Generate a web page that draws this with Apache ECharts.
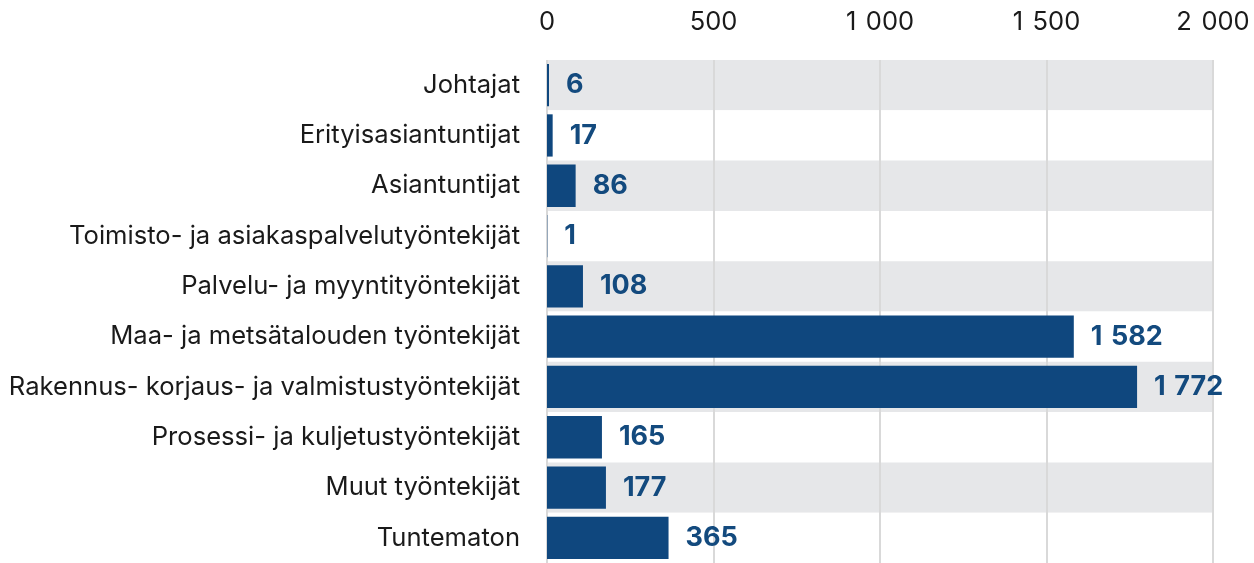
<!DOCTYPE html>
<html>
<head>
<meta charset="utf-8">
<script src="https://cdn.jsdelivr.net/npm/echarts@6/dist/echarts.min.js"></script>
<style>
  html, body { margin: 0; padding: 0; background: #fff; }
  #main { width: 1254px; height: 563px; }
</style>
</head>
<body>
<div id="main"></div>
<script>
const categories = [
  "Johtajat",
  "Erityisasiantuntijat",
  "Asiantuntijat",
  "Toimisto- ja asiakaspalvelutyöntekijät",
  "Palvelu- ja myyntityöntekijät",
  "Maa- ja metsätalouden työntekijät",
  "Rakennus- korjaus- ja valmistustyöntekijät",
  "Prosessi- ja kuljetustyöntekijät",
  "Muut työntekijät",
  "Tuntematon",
];
const values = [6, 17, 86, 1, 108, 1582, 1772, 165, 177, 365];
const xTicks = [0, 500, 1000, 1500, 2000];

// thousands separator: a slightly widened space, as in the original
const fmt = (v) => String(v).replace(/\B(?=(\d{3})+(?!\d))/g, " \u200a");

const chart = echarts.init(document.getElementById("main"));

chart.setOption({
  animation: false,
  textStyle: { fontFamily: "Inter" },
  grid: { left: 547, right: 41, top: 60, bottom: 0 },
  xAxis: {
    type: "value",
    position: "top",
    min: xTicks[0],
    max: xTicks[xTicks.length - 1],
    interval: 500,
    axisLine: { show: false },
    axisTick: { show: false },
    axisLabel: {
      margin: 25,
      fontSize: 25.5,
      color: "#1a1a1a",
      formatter: (v) => fmt(v),
    },
    splitLine: { show: true, lineStyle: { color: "#d9d9d9", width: 2 } },
  },
  yAxis: {
    type: "category",
    inverse: true,
    data: categories,
    axisLine: { show: false },
    axisTick: { show: false },
    axisLabel: { margin: 27, fontSize: 25.6, color: "#1a1a1a" },
    splitArea: { show: true, areaStyle: { color: ["#e6e7e9", "#ffffff"] } },
  },
  series: [
    {
      type: "bar",
      data: values,
      barCategoryGap: "16%",
      itemStyle: { color: "#0f477e" },
      label: {
        show: true,
        position: "right",
        distance: 17,
        fontSize: 27,
        fontWeight: "bold",
        color: "#134a7e",
        formatter: (p) => fmt(p.value),
      },
    },
  ],
});
</script>
</body>
</html>
